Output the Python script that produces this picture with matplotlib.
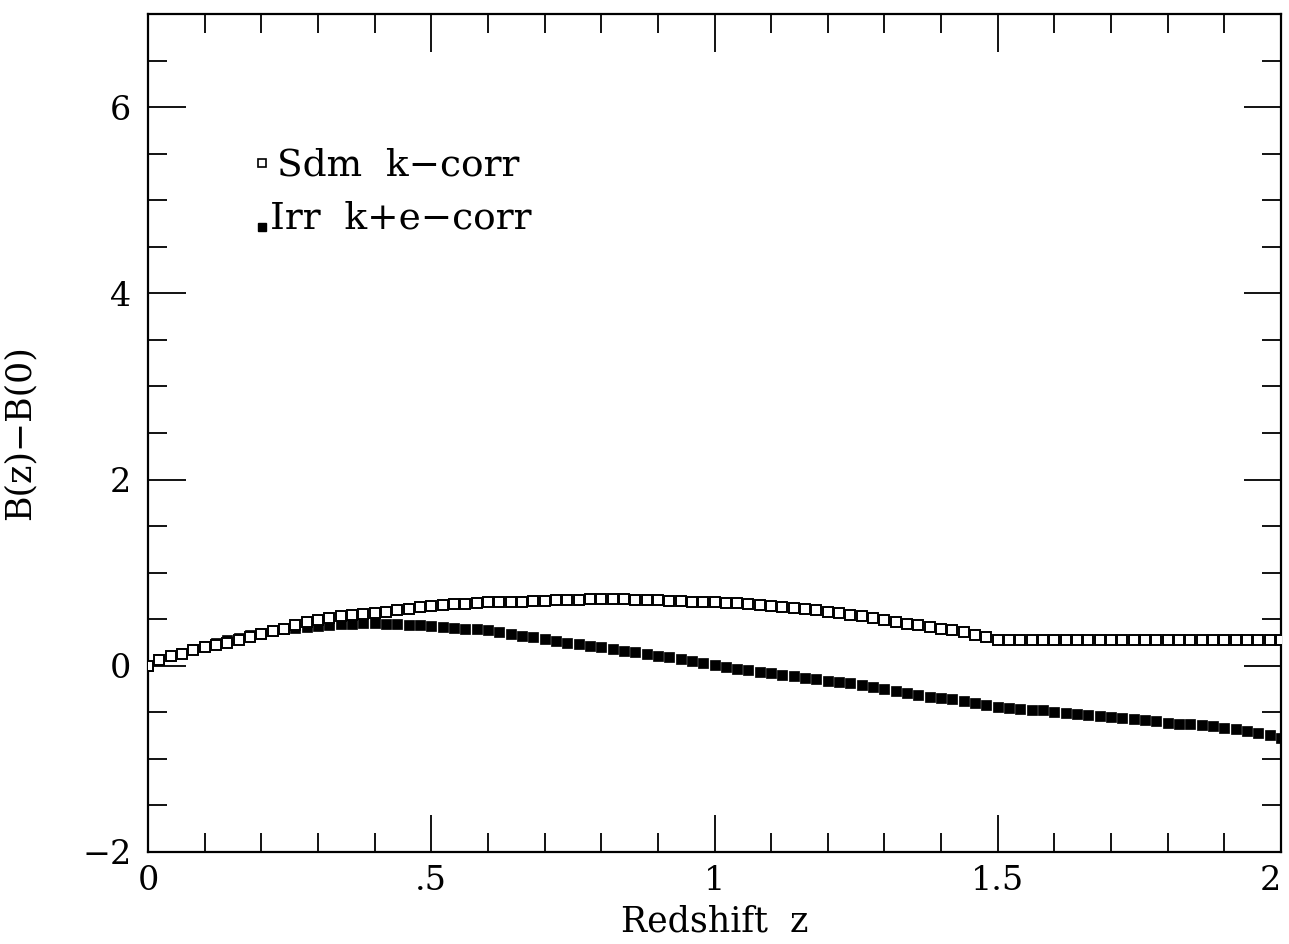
import matplotlib
matplotlib.use('Agg')
import matplotlib.pyplot as plt
import numpy as np
from matplotlib.ticker import MultipleLocator, FixedLocator, FixedFormatter

plt.rcParams['font.family'] = ['DejaVu Serif']

# redshift grid, one point every 0.02
z = [round(0.02 * i, 2) for i in range(101)]

# Sdm k-corr (open squares)
sdm_k = [0.00, 0.06, 0.10, 0.13, 0.17, 0.20, 0.22, 0.24, 0.28, 0.31,
         0.34, 0.37, 0.40, 0.44, 0.47, 0.49, 0.51, 0.53, 0.55, 0.56,
         0.57, 0.58, 0.60, 0.61, 0.63, 0.64, 0.65, 0.66, 0.66, 0.67,
         0.68, 0.68, 0.69, 0.69, 0.70, 0.70, 0.71, 0.71, 0.71, 0.72,
         0.72, 0.72, 0.72, 0.71, 0.71, 0.71, 0.70, 0.70, 0.69, 0.69,
         0.68, 0.67, 0.67, 0.66, 0.65, 0.64, 0.63, 0.62, 0.61, 0.60,
         0.58, 0.57, 0.55, 0.53, 0.51, 0.49, 0.47, 0.45, 0.44, 0.42,
         0.40, 0.38, 0.36, 0.33, 0.31, 0.28, 0.28, 0.28, 0.28, 0.28,
         0.28, 0.28, 0.28, 0.28, 0.28, 0.28, 0.28, 0.28, 0.28, 0.28,
         0.28, 0.28, 0.28, 0.28, 0.28, 0.28, 0.28, 0.28, 0.28, 0.28,
         0.28]

# Irr k+e-corr (filled squares)
irr_ke = [0.00, 0.07, 0.11, 0.14, 0.18, 0.21, 0.25, 0.28, 0.30, 0.33,
          0.35, 0.37, 0.39, 0.41, 0.42, 0.43, 0.44, 0.45, 0.45, 0.46,
          0.46, 0.45, 0.45, 0.44, 0.44, 0.43, 0.42, 0.41, 0.40, 0.39,
          0.38, 0.36, 0.34, 0.32, 0.31, 0.29, 0.27, 0.25, 0.23, 0.21,
          0.20, 0.18, 0.16, 0.15, 0.13, 0.11, 0.09, 0.07, 0.05, 0.03,
          0.01, -0.01, -0.03, -0.05, -0.07, -0.08, -0.10, -0.11, -0.13, -0.14,
          -0.16, -0.17, -0.19, -0.21, -0.23, -0.25, -0.27, -0.29, -0.31, -0.33,
          -0.35, -0.36, -0.38, -0.40, -0.42, -0.44, -0.45, -0.46, -0.47, -0.48,
          -0.50, -0.51, -0.52, -0.53, -0.54, -0.55, -0.56, -0.57, -0.58, -0.59,
          -0.61, -0.62, -0.63, -0.64, -0.65, -0.67, -0.68, -0.70, -0.72, -0.74,
          -0.78]

xticks = [0, 0.5, 1, 1.5, 2]
xticklabels = ['0', '.5', '1', '1.5', '2']
yticks = [-2, 0, 2, 4, 6]
yticklabels = ['\u22122', '0', '2', '4', '6']

fig = plt.figure(figsize=(12.89, 9.44), dpi=100)
ax = fig.add_axes([148 / 1289, 1 - 852 / 944, (1281 - 148) / 1289, (852 - 14) / 944])

ax.plot(z, sdm_k, linestyle='none', marker='s', markersize=7.5,
        markerfacecolor='white', markeredgecolor='black', markeredgewidth=1.4, zorder=3)
ax.plot(z, irr_ke, linestyle='none', marker='s', markersize=7.8,
        markerfacecolor='black', markeredgecolor='black', markeredgewidth=0.5, zorder=2)

ax.set_xlim(0, 2)
ax.set_ylim(-2, 7)

ax.xaxis.set_major_locator(FixedLocator(xticks))
ax.xaxis.set_major_formatter(FixedFormatter(xticklabels))
ax.xaxis.set_minor_locator(MultipleLocator(0.1))
ax.yaxis.set_major_locator(FixedLocator(yticks))
ax.yaxis.set_major_formatter(FixedFormatter(yticklabels))
ax.yaxis.set_minor_locator(MultipleLocator(0.5))

ax.tick_params(which='both', direction='in', top=True, right=True, width=1.3, colors='black')
ax.tick_params(which='major', length=27)
ax.tick_params(which='minor', length=14)
ax.tick_params(axis='x', which='major', labelsize=24, pad=9)
ax.tick_params(axis='y', which='major', labelsize=24, pad=12)
for s in ax.spines.values():
    s.set_linewidth(1.6)

# keep the last x label inside the figure, as in the original
ax.xaxis.get_majorticklabels()[-1].set_horizontalalignment('right')

ax.set_xlabel('Redshift  z', fontsize=25, labelpad=6)
ax.set_ylabel('B(z)\u2212B(0)', fontsize=25)
ax.yaxis.set_label_coords(-0.098, 0.5)

# legend drawn as text with sample markers
ax.plot([0.1006], [0.8225], transform=ax.transAxes, linestyle='none', marker='s',
        markersize=6, markerfacecolor='white', markeredgecolor='black', markeredgewidth=1.2)
ax.text(0.114, 0.8195, 'Sdm  k\u2212corr', transform=ax.transAxes,
        fontsize=27, va='center', ha='left')
ax.plot([0.1006], [0.7455], transform=ax.transAxes, linestyle='none', marker='s',
        markersize=5.5, markerfacecolor='black', markeredgecolor='black')
ax.text(0.1075, 0.7555, 'Irr  k+e\u2212corr', transform=ax.transAxes,
        fontsize=27, va='center', ha='left')

fig.savefig('out.png', dpi=100)
